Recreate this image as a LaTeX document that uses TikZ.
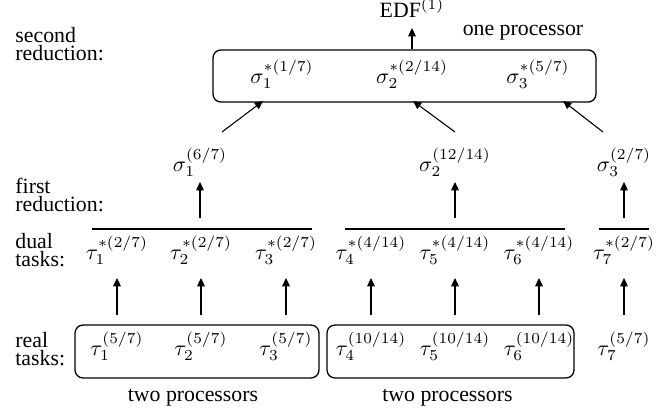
\documentclass[tikz,border=0pt]{standalone}
\usepackage[no-math]{fontspec}
\setmainfont{Liberation Serif}
\usetikzlibrary{arrows.meta}
\tikzset{
  lbl/.style={anchor=north west, align=left, inner sep=0pt,
              font=\fontsize{10pt}{8.2pt}\selectfont},
  task/.style={anchor=base, inner sep=0pt},
  grp/.style={draw, rounded corners=3.7pt, line width=0.6pt,
              minimum width=#1, minimum height=24.3pt, inner sep=0pt},
  arr/.style={-{Triangle[length=3.8pt,width=3.5pt]}, line width=0.5pt},
  bar/.style={line width=0.6pt},
}
\begin{document}
\begin{tikzpicture}[x=0.4587pt, y=-0.4587pt]
\useasboundingbox (0,0) rectangle (672,414);

% row labels
\node[lbl] (lsec)  at (15,27)  {second\\reduction:};
\node[lbl] (lfir)  at (15,178) {first\\reduction:};
\node[lbl] (ldual) at (15,233) {dual\\tasks:};
\node[lbl] (lreal) at (15,332) {real\\tasks:};

% processor groups
\node[grp=175.7pt, minimum height=23.9pt] (top) at (404.5,76) {};
\node[grp=111.9pt] (g1) at (197,351.5) {};
\node[grp=113.3pt] (g2) at (450.5,351.5) {};

% real tasks
\node[task] (r1) at (117,355) {$\tau_1^{(5/7)}$};
\node[task] (r2) at (201,355) {$\tau_2^{(5/7)}$};
\node[task] (r3) at (286,355) {$\tau_3^{(5/7)}$};
\node[task] (r4) at (371,355) {$\tau_4^{(10/14)}$};
\node[task] (r5) at (455,355) {$\tau_5^{(10/14)}$};
\node[task] (r6) at (539,355) {$\tau_6^{(10/14)}$};
\node[task] (r7) at (624,355) {$\tau_7^{(5/7)}$};

% dual tasks
\node[task] (d1) at (117,259) {$\tau_1^{*(2/7)}$};
\node[task] (d2) at (201,259) {$\tau_2^{*(2/7)}$};
\node[task] (d3) at (286,259) {$\tau_3^{*(2/7)}$};
\node[task] (d4) at (371,259) {$\tau_4^{*(4/14)}$};
\node[task] (d5) at (455,259) {$\tau_5^{*(4/14)}$};
\node[task] (d6) at (539,259) {$\tau_6^{*(4/14)}$};
\node[task] (d7) at (624,259) {$\tau_7^{*(2/7)}$};

% first reduction
\node[task] (s1) at (200,171) {$\sigma_1^{(6/7)}$};
\node[task] (s2) at (455,171) {$\sigma_2^{(12/14)}$};
\node[task] (s3) at (624,171) {$\sigma_3^{(2/7)}$};

% second reduction
\node[task] (m1) at (282,83) {$\sigma_1^{*(1/7)}$};
\node[task] (m2) at (412,83) {$\sigma_2^{*(2/14)}$};
\node[task] (m3) at (538,83) {$\sigma_3^{*(5/7)}$};

\node[task] (edf)  at (412,17)    {EDF$^{(1)}$};
\node[task] (one)  at (523,35)    {one processor};
\node[task] (two1) at (193,401.5) {two processors};
\node[task] (two2) at (447.5,401.5) {two processors};

% bars over the dual task groups
\coordinate (b1l) at (92,229);  \coordinate (b1r) at (312,229);
\coordinate (b2l) at (345,229); \coordinate (b2r) at (565,229);
\coordinate (b3l) at (599,229); \coordinate (b3r) at (649,229);
\draw[bar] (b1l) -- (b1r);
\draw[bar] (b2l) -- (b2r);
\draw[bar] (b3l) -- (b3r);

% real -> dual
\foreach \k in {1,...,7}
  \draw[arr] ([shift={(0,-40)}]r\k.base) -- ([shift={(0,19)}]d\k.base);

% dual groups -> first reduction
\coordinate (b1m) at (200,218);
\coordinate (b2m) at (455,218);
\coordinate (b3m) at (624,218);
\draw[arr] (b1m) -- ([shift={(0,11)}]s1.base);
\draw[arr] (b2m) -- ([shift={(0,11)}]s2.base);
\draw[arr] (b3m) -- ([shift={(0,11)}]s3.base);

% first reduction -> second reduction
\coordinate (t1) at (263,101);
\coordinate (t2) at (413,101);
\coordinate (t3) at (563,101);
\draw[arr] ([shift={(22,-39)}]s1.base) -- (t1);
\draw[arr] ([shift={(0,-39)}]s2.base) -- (t2);
\draw[arr] ([shift={(-21,-39)}]s3.base) -- (t3);

% second reduction -> EDF
\draw[arr] (top.north -| edf.base) -- ([shift={(0,11)}]edf.base);
\end{tikzpicture}
\end{document}
